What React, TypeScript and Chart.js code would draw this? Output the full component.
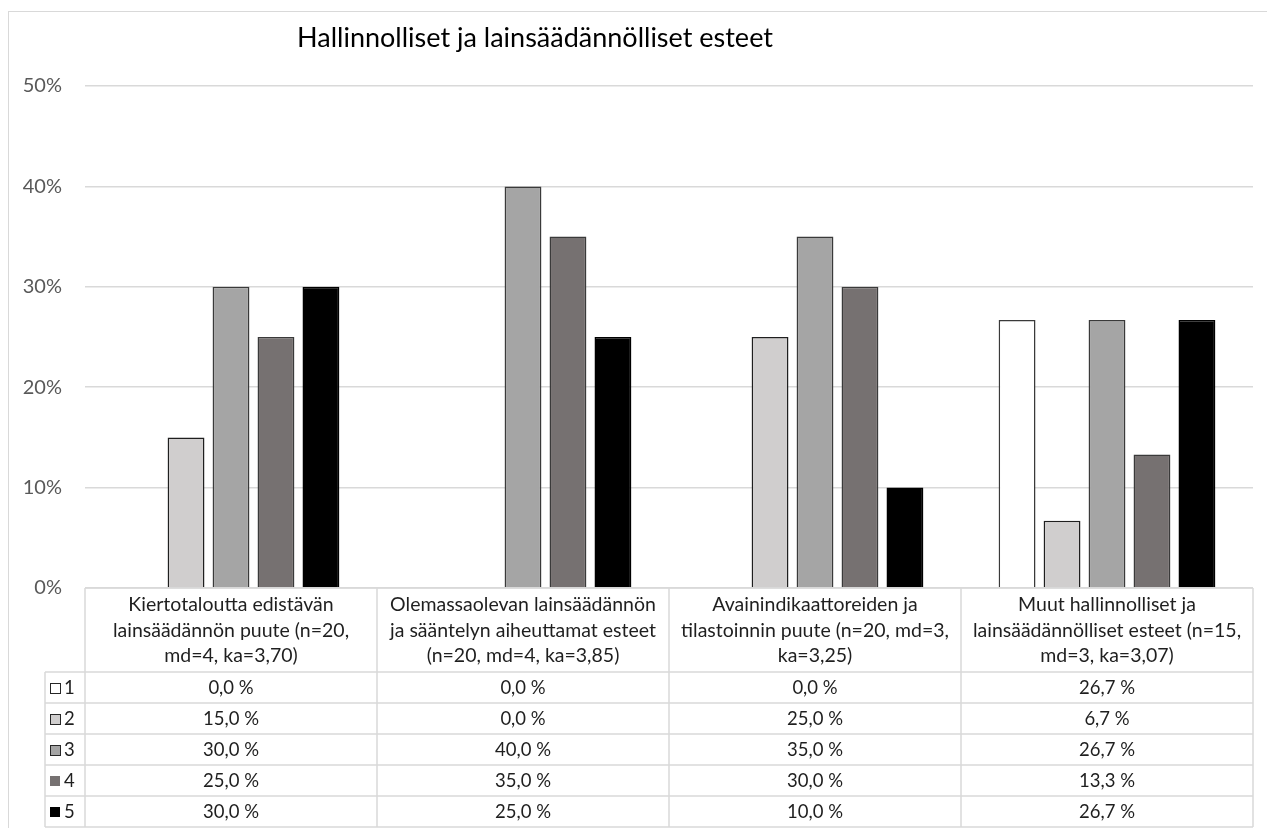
import React, { useEffect, useRef } from "react";
import { Chart, registerables } from "chart.js";

Chart.register(...registerables);

const TITLE = "Hallinnolliset ja lainsäädännölliset esteet";

const categories: string[][] = [
  ["Kiertotaloutta edistävän", "lainsäädännön puute (n=20,", "md=4, ka=3,70)"],
  ["Olemassaolevan lainsäädännön", "ja sääntelyn aiheuttamat esteet", "(n=20, md=4, ka=3,85)"],
  ["Avainindikaattoreiden ja", "tilastoinnin puute (n=20, md=3,", "ka=3,25)"],
  ["Muut hallinnolliset ja", "lainsäädännölliset esteet (n=15,", "md=3, ka=3,07)"],
];

const seriesLabels = ["1", "2", "3", "4", "5"];
const s1 = [0.0, 0.0, 0.0, 26.7];
const s2 = [15.0, 0.0, 25.0, 6.7];
const s3 = [30.0, 40.0, 35.0, 26.7];
const s4 = [25.0, 35.0, 30.0, 13.3];
const s5 = [30.0, 25.0, 10.0, 26.7];
const seriesValues = [s1, s2, s3, s4, s5];

const fills = ["#ffffff", "#d0cece", "#a5a5a5", "#767171", "#000000"];
const borders = ["#3a3a3a", "#1f1f1f", "#3a3a3a", "#3a3a3a", "#000000"];
const yTicks = [0, 10, 20, 30, 40, 50];

const FONT = "Lato, 'Noto Sans', sans-serif";

const fmt = (v: number) => v.toFixed(1).replace(".", ",") + " %";

const tablePlugin = {
  id: "tablePlugin",
  beforeDraw(chart: any) {
    const ctx = chart.ctx;
    ctx.save();
    ctx.fillStyle = "#ffffff";
    ctx.fillRect(0, 0, chart.width, chart.height);
    ctx.strokeStyle = "#d9d9d9";
    ctx.lineWidth = 1;
    ctx.strokeRect(8.5, 11.5, chart.width + 10, chart.height + 10);
    // title
    ctx.fillStyle = "#000000";
    ctx.font = `27px ${FONT}`;
    ctx.textAlign = "center";
    ctx.textBaseline = "alphabetic";
    ctx.fillText(TITLE, 535, 47);
    ctx.restore();
  },
  afterDraw(chart: any) {
    const ctx = chart.ctx;
    const area = chart.chartArea;
    const xs = chart.scales.x;
    const left = area.left;
    const right = area.right;
    const n = categories.length;
    const colW = (right - left) / n;
    const headTop = area.bottom;
    const headBottom = headTop + 84;
    const rowH = 31;
    const legLeft = 45;
    const bottom = headBottom + rowH * seriesLabels.length;
    ctx.save();
    ctx.strokeStyle = "#d9d9d9";
    ctx.lineWidth = 1.5;
    const line = (x1: number, y1: number, x2: number, y2: number) => {
      ctx.beginPath();
      ctx.moveTo(x1, y1);
      ctx.lineTo(x2, y2);
      ctx.stroke();
    };
    line(left, headTop, right, headTop);
    for (let i = 0; i <= seriesLabels.length; i++) {
      const y = headBottom + i * rowH;
      line(legLeft, y, right, y);
    }
    for (let i = 0; i <= n; i++) {
      const x = left + i * colW;
      line(x, headTop, x, bottom);
    }
    line(legLeft, headBottom, legLeft, bottom);

    ctx.fillStyle = "#1f1f1f";
    ctx.textAlign = "center";
    ctx.textBaseline = "middle";
    ctx.font = `19.5px ${FONT}`;
    categories.forEach((lines, i) => {
      const cx = xs.getPixelForValue(i);
      lines.forEach((t, j) => {
        ctx.fillText(t, cx, headTop + 17 + j * 25.5);
      });
    });
    ctx.font = `18.5px ${FONT}`;
    seriesValues.forEach((vals, r) => {
      const cy = headBottom + r * rowH + rowH / 2 + 1;
      vals.forEach((v, i) => {
        const cx = xs.getPixelForValue(i);
        ctx.fillText(fmt(v), cx, cy);
      });
      // legend key
      ctx.fillStyle = fills[r];
      ctx.fillRect(50, cy - 5.5, 10, 10);
      if (r < 3) {
        ctx.strokeStyle = "#262626";
        ctx.lineWidth = 1;
        ctx.strokeRect(50.5, cy - 5, 10, 10);
      }
      ctx.fillStyle = "#1f1f1f";
      ctx.textAlign = "left";
      ctx.fillText(seriesLabels[r], 64, cy);
      ctx.textAlign = "center";
    });
    ctx.restore();
  },
};

export default function App() {
  const ref = useRef<HTMLCanvasElement | null>(null);
  useEffect(() => {
    if (!ref.current) return;
    const chart = new Chart(ref.current, {
      type: "bar",
      data: {
        labels: categories.map((c) => c.join(" ")),
        datasets: seriesValues.map((vals, i) => ({
          label: seriesLabels[i],
          data: vals,
          backgroundColor: fills[i],
          borderColor: borders[i],
          borderWidth: 1.5,
          categoryPercentage: 0.77,
          barPercentage: 0.82,
        })),
      },
      options: {
        animation: false,
        responsive: false,
        maintainAspectRatio: false,
        devicePixelRatio: 1,
        layout: { padding: { top: 86, bottom: 240, left: 0, right: 14 } },
        plugins: {
          legend: { display: false },
          title: { display: false },
          tooltip: { enabled: false },
        },
        scales: {
          x: {
            display: false,
          },
          y: {
            min: 0,
            max: 50,
            afterFit: (s: any) => {
              s.width = 85;
            },
            afterBuildTicks: (s: any) => {
              s.ticks = yTicks.map((v) => ({ value: v }));
            },
            ticks: {
              padding: 23,
              color: "#595959",
              font: { family: FONT, size: 20 },
              callback: (v: any) => v + "%",
            },
            grid: { color: "#d9d9d9", lineWidth: 1.5, drawTicks: false },
            border: { display: false },
          },
        },
      },
      plugins: [tablePlugin],
    });
    return () => chart.destroy();
  }, []);
  return (
    <div style={{ position: "fixed", left: 0, top: 0, width: 1267, height: 828, background: "#fff" }}>
      <canvas ref={ref} width={1267} height={828} style={{ width: 1267, height: 828, display: "block" }} />
    </div>
  );
}
